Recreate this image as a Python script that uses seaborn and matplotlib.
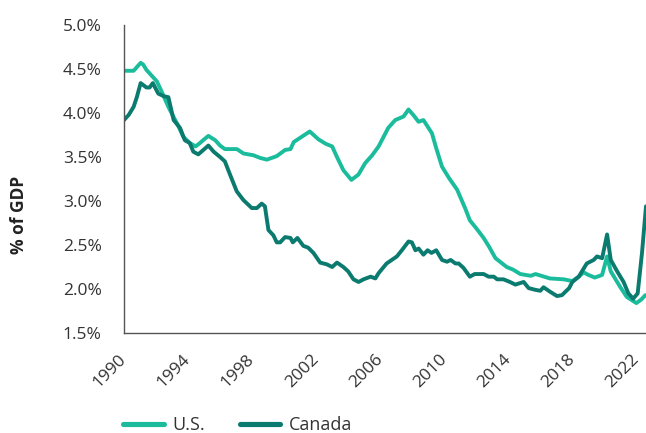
import matplotlib
matplotlib.use("Agg")
import matplotlib.pyplot as plt
import seaborn as sns
import pandas as pd
from matplotlib.ticker import FuncFormatter
from matplotlib.lines import Line2D

us_years = [1990.0, 1990.6, 1991.04, 1991.2, 1991.4, 1991.7, 1992.05, 1992.36, 1992.77, 1993.08,
            1993.4, 1993.7, 1994.1, 1994.47, 1994.75, 1995.0, 1995.27, 1995.7, 1996.0, 1996.3,
            1997.05, 1997.46, 1998.08, 1998.5, 1998.92, 1999.54, 2000.06, 2000.4, 2000.6, 2001.1,
            2001.6, 2002.15, 2002.6, 2003.0, 2003.3, 2003.7, 2004.2, 2004.64, 2005.06, 2005.5,
            2005.9, 2006.5, 2006.94, 2007.46, 2007.77, 2008.1, 2008.4, 2008.7, 2009.23, 2009.5,
            2009.86, 2010.3, 2010.8, 2011.3, 2011.6, 2012.0, 2012.46, 2012.8, 2013.2, 2013.9,
            2014.3, 2014.75, 2015.4, 2015.7, 2016.6, 2017.46, 2018.0, 2018.4, 2018.7, 2019.0,
            2019.4, 2019.86, 2020.17, 2020.4, 2020.6, 2021.0, 2021.4, 2022.0, 2022.3, 2022.56]
us_vals = [4.48, 4.48, 4.57, 4.55, 4.49, 4.43, 4.36, 4.24, 4.07, 3.96,
           3.85, 3.73, 3.66, 3.62, 3.66, 3.70, 3.74, 3.69, 3.63, 3.59,
           3.59, 3.54, 3.52, 3.49, 3.47, 3.51, 3.58, 3.59, 3.67, 3.73,
           3.79, 3.70, 3.65, 3.62, 3.50, 3.35, 3.24, 3.30, 3.43, 3.52,
           3.62, 3.83, 3.92, 3.96, 4.04, 3.97, 3.90, 3.92, 3.77, 3.60,
           3.39, 3.26, 3.13, 2.92, 2.78, 2.69, 2.58, 2.48, 2.35, 2.25,
           2.22, 2.17, 2.15, 2.17, 2.12, 2.11, 2.09, 2.14, 2.19, 2.16,
           2.13, 2.16, 2.37, 2.20, 2.14, 2.02, 1.91, 1.84, 1.88, 1.93]

ca_years = [1990.0, 1990.3, 1990.6, 1990.8, 1991.04, 1991.4, 1991.6, 1991.8, 1992.14, 1992.5,
            1992.77, 1993.1, 1993.5, 1993.8, 1994.1, 1994.33, 1994.64, 1995.27, 1995.6, 1996.0,
            1996.3, 1996.6, 1997.04, 1997.46, 1997.98, 1998.3, 1998.6, 1998.8, 1999.02, 1999.33,
            1999.54, 1999.75, 2000.06, 2000.4, 2000.54, 2000.83, 2001.2, 2001.5, 2001.83, 2002.25,
            2002.67, 2003.0, 2003.3, 2003.7, 2004.0, 2004.33, 2004.65, 2004.96, 2005.4, 2005.7,
            2005.9, 2006.4, 2007.04, 2007.35, 2007.77, 2007.98, 2008.2, 2008.4, 2008.7, 2008.96,
            2009.2, 2009.5, 2009.86, 2010.17, 2010.4, 2010.7, 2010.9, 2011.2, 2011.6, 2011.9,
            2012.46, 2012.77, 2013.1, 2013.3, 2013.7, 2014.1, 2014.44, 2014.96, 2015.27, 2015.7,
            2016.0, 2016.2, 2016.6, 2017.04, 2017.35, 2017.8, 2018.0, 2018.4, 2018.9, 2019.33,
            2019.54, 2019.86, 2020.17, 2020.4, 2020.8, 2021.2, 2021.5, 2021.8, 2022.08, 2022.35,
            2022.6]
ca_vals = [3.92, 3.98, 4.07, 4.18, 4.34, 4.29, 4.29, 4.34, 4.22, 4.19,
           4.18, 3.92, 3.83, 3.69, 3.66, 3.56, 3.53, 3.63, 3.56, 3.50,
           3.45, 3.31, 3.11, 3.01, 2.92, 2.92, 2.97, 2.94, 2.67, 2.61,
           2.53, 2.53, 2.59, 2.58, 2.53, 2.58, 2.49, 2.47, 2.41, 2.30,
           2.28, 2.25, 2.30, 2.25, 2.20, 2.11, 2.08, 2.11, 2.14, 2.12,
           2.18, 2.29, 2.37, 2.44, 2.54, 2.53, 2.44, 2.46, 2.39, 2.44,
           2.41, 2.44, 2.33, 2.31, 2.33, 2.29, 2.29, 2.24, 2.14, 2.17,
           2.17, 2.14, 2.14, 2.11, 2.11, 2.08, 2.05, 2.08, 2.01, 1.99,
           1.98, 2.02, 1.97, 1.92, 1.93, 2.01, 2.08, 2.14, 2.29, 2.33,
           2.37, 2.35, 2.62, 2.33, 2.20, 2.08, 1.95, 1.89, 1.95, 2.41,
           2.94]

series_names = ["U.S.", "Canada"]
x_ticks = [1990, 1994, 1998, 2002, 2006, 2010, 2014, 2018, 2022]
y_ticks = [1.5, 2.0, 2.5, 3.0, 3.5, 4.0, 4.5, 5.0]
y_label = "% of GDP"

colors = {"U.S.": "#1abc9c", "Canada": "#0b7a6f"}

df = pd.concat([
    pd.DataFrame({"year": us_years, "value": us_vals, "series": series_names[0]}),
    pd.DataFrame({"year": ca_years, "value": ca_vals, "series": series_names[1]}),
], ignore_index=True)

sns.set_theme(style="white")
plt.rcParams["font.family"] = ["Open Sans", "DejaVu Sans"]

fig = plt.figure(figsize=(6.46, 4.33), dpi=100)
ax = fig.add_axes([124/646, 1 - 333/433, 1 - 124/646, (333 - 25)/433])

sns.lineplot(data=df, x="year", y="value", hue="series", palette=colors,
             linewidth=2.8, ax=ax, legend=False, sort=True, estimator=None)

ax.set_xlim(1990, 2022.6)
ax.set_ylim(1.5, 5.0)
ax.set_xticks(x_ticks)
ax.set_yticks(y_ticks)
ax.yaxis.set_major_formatter(FuncFormatter(lambda v, p: f"{v:.1f}%"))
ax.set_xticklabels([str(t) for t in x_ticks], rotation=45, ha="right", va="center",
                   rotation_mode="anchor")

for s in ["top", "right"]:
    ax.spines[s].set_visible(False)
for s in ["left", "bottom"]:
    ax.spines[s].set_color("#555555")
    ax.spines[s].set_linewidth(1.0)

ax.tick_params(axis="both", which="major", direction="out", length=7.5, width=1,
               color="#555555", labelsize=12.5, labelcolor="#333333")
ax.tick_params(axis="y", pad=8.5)
ax.tick_params(axis="x", pad=10)
ax.set_xlabel("")
ax.set_ylabel(y_label, fontsize=12.5, fontweight="bold", color="#222222")
ax.yaxis.set_label_coords(-0.184, 0.383)
ax.grid(False)

handles = [Line2D([0], [0], color=colors[n], linewidth=3.7, solid_capstyle="round")
           for n in series_names]
fig.legend(handles, series_names, loc="center left", bbox_to_anchor=(123/646, 1 - 425/433),
           ncol=2, frameon=False, fontsize=13, handlelength=2.25, columnspacing=1.9,
           handletextpad=0.5, borderpad=0, borderaxespad=0, labelcolor="#333333")

fig.savefig("out.png", dpi=100)
